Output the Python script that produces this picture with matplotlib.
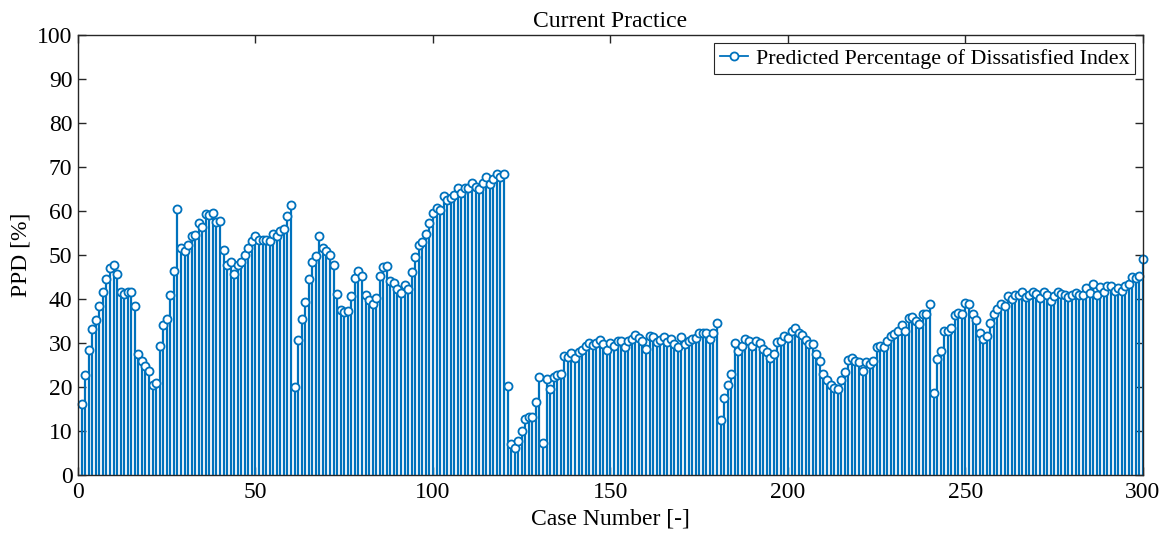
import numpy as np
import matplotlib
matplotlib.use("Agg")
import matplotlib.pyplot as plt
from matplotlib.lines import Line2D

# PPD per simulated case (cases 1..300)
ppd_1_50 = [16.1, 22.8, 28.3, 33.1, 35.2, 38.4, 41.6, 44.5, 47.1, 47.7,
            45.7, 41.7, 41.2, 41.7, 41.6, 38.3, 27.6, 26.0, 24.8, 23.7,
            20.4, 20.8, 29.3, 34.1, 35.5, 41.0, 46.3, 60.5, 51.7, 51.0,
            52.3, 54.4, 54.6, 57.3, 56.4, 59.4, 59.2, 59.6, 57.4, 57.7,
            51.2, 47.7, 48.5, 45.7, 47.7, 48.3, 49.9, 51.7, 53.2, 54.3]
ppd_51_100 = [53.3, 53.3, 53.5, 53.1, 54.8, 54.4, 55.4, 55.8, 58.9, 61.4,
              20.0, 30.6, 35.5, 39.4, 44.5, 48.5, 49.8, 54.3, 51.7, 51.0,
              50.1, 47.8, 41.2, 37.4, 37.0, 37.3, 40.6, 44.7, 46.3, 45.2,
              40.8, 39.7, 38.9, 40.2, 45.3, 47.3, 47.6, 44.2, 43.7, 42.2,
              41.4, 43.2, 42.3, 46.2, 49.5, 52.3, 52.9, 54.7, 57.2, 59.6]
ppd_101_150 = [60.7, 60.2, 63.5, 62.6, 63.0, 63.6, 65.3, 64.2, 65.3, 65.3,
               66.4, 65.5, 64.9, 66.4, 67.7, 66.1, 67.3, 68.3, 67.7, 68.3,
               20.2, 7.1, 6.2, 7.7, 10.0, 12.8, 13.2, 13.1, 16.6, 22.2,
               7.3, 21.8, 19.5, 22.2, 22.8, 23.0, 27.0, 26.9, 27.8, 26.7,
               28.0, 28.3, 29.4, 30.0, 29.5, 29.9, 30.6, 29.7, 28.3, 30.0]
ppd_151_200 = [29.3, 30.4, 30.4, 29.1, 30.5, 30.9, 31.9, 31.2, 30.5, 28.7,
               31.6, 31.4, 30.2, 30.6, 31.4, 30.2, 30.8, 29.8, 29.2, 31.3,
               29.8, 30.4, 30.8, 31.2, 32.2, 32.2, 32.3, 30.8, 32.3, 34.5,
               12.4, 17.4, 20.5, 23.0, 29.9, 28.1, 29.3, 30.8, 30.5, 29.4,
               30.4, 29.9, 28.6, 27.9, 26.7, 27.5, 30.2, 30.5, 31.6, 31.1]
ppd_201_250 = [32.7, 33.3, 32.3, 31.9, 30.6, 29.8, 29.8, 27.6, 25.8, 22.9,
               21.6, 20.4, 19.8, 19.6, 21.6, 23.3, 26.1, 26.5, 26.0, 25.7,
               23.7, 25.6, 25.2, 26.0, 29.1, 29.4, 29.1, 30.4, 31.6, 32.0,
               32.7, 34.1, 32.8, 35.6, 35.8, 35.1, 34.3, 36.5, 36.6, 38.9,
               18.7, 26.4, 28.2, 32.8, 32.7, 33.5, 36.4, 36.9, 36.7, 39.1]
ppd_251_300 = [38.8, 36.7, 35.2, 32.3, 30.8, 31.6, 34.5, 36.7, 37.8, 38.8,
               38.5, 40.6, 40.0, 40.8, 41.0, 41.7, 40.5, 40.8, 41.5, 41.2,
               40.3, 41.6, 41.0, 39.5, 40.6, 41.6, 41.2, 40.8, 40.5, 40.8,
               41.4, 40.8, 41.0, 42.4, 41.4, 43.3, 40.8, 42.7, 41.7, 43.0,
               43.0, 41.8, 42.4, 41.8, 43.0, 43.5, 45.1, 44.8, 45.2, 49.2]

ppd = np.array(ppd_1_50 + ppd_51_100 + ppd_101_150 + ppd_151_200
               + ppd_201_250 + ppd_251_300)
cases = np.arange(1, len(ppd) + 1)

x_ticks = [0, 50, 100, 150, 200, 250, 300]
y_ticks = list(range(0, 101, 10))
series_label = 'Predicted Percentage of Dissatisfied Index'

plt.rcParams['font.family'] = ['Liberation Serif', 'DejaVu Serif']

blue = '#0072BD'
axis_col = '#262626'

fig = plt.figure(figsize=(11.73, 5.42), dpi=100)
ax = fig.add_axes([0.0665, 0.1236, 0.9079, 0.8118])

markerline, stemlines, baseline = ax.stem(
    cases, ppd, linefmt='-', markerfmt='o', basefmt=' ')
plt.setp(stemlines, color=blue, linewidth=1.6)
plt.setp(markerline, color=blue, markerfacecolor='white',
         markeredgecolor=blue, markersize=5.8, markeredgewidth=1.3)
markerline.set_clip_on(False)

ax.set_xlim(0, 300)
ax.set_ylim(0, 100)
ax.set_xticks(x_ticks)
ax.set_yticks(y_ticks)
ax.tick_params(direction='in', top=True, right=True, length=6,
               width=1.0, colors=axis_col, labelsize=17)
ax.tick_params(axis='x', pad=5)
ax.tick_params(axis='y', pad=4)
for lbl in ax.get_xticklabels() + ax.get_yticklabels():
    lbl.set_color('black')
for side in ax.spines.values():
    side.set_color(axis_col)
    side.set_linewidth(1.0)

ax.set_title('Current Practice', fontsize=17, color='black', pad=6)
ax.set_xlabel('Case Number [-]', fontsize=17, labelpad=4)
ax.set_ylabel('PPD [%]', fontsize=17, labelpad=4)

handle = Line2D([], [], color=blue, linewidth=1.3, marker='o',
                markerfacecolor='white', markeredgecolor=blue,
                markersize=5.8, markeredgewidth=1.3)
leg = ax.legend([handle], [series_label], loc='upper right', fontsize=15.8,
                frameon=True, fancybox=False, borderpad=0.25,
                handlelength=1.3, handletextpad=0.35, borderaxespad=0.35)
leg.get_frame().set_edgecolor(axis_col)
leg.get_frame().set_linewidth(0.8)
leg.get_frame().set_alpha(1.0)

fig.savefig('out.png', dpi=100)
